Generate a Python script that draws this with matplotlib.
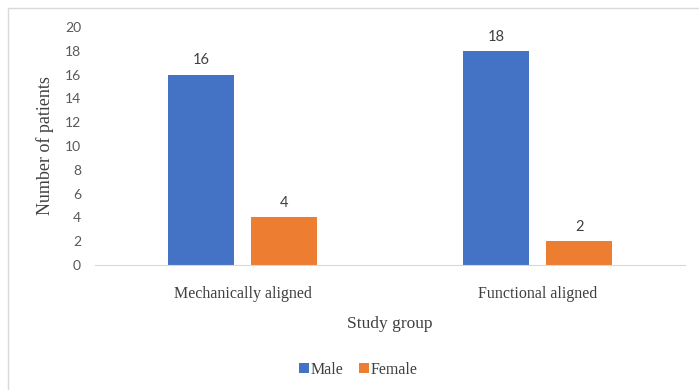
import matplotlib
matplotlib.use("Agg")
import matplotlib.pyplot as plt
import numpy as np
from matplotlib.patches import Rectangle

groups = ["Mechanically aligned", "Functional aligned"]
male = [16, 18]
female = [4, 2]
series_names = ["Male", "Female"]
colors = ["#4472C4", "#ED7D31"]
yticks = list(range(0, 21, 2))

W, H = 699, 390
fig = plt.figure(figsize=(W / 100, H / 100), dpi=100)
# light frame around the chart area
fig.patches.append(Rectangle((8 / W, -0.01), 1.0, 1 - 8 / H + 0.01,
                             transform=fig.transFigure, fill=False,
                             edgecolor="#D9D9D9", linewidth=1.0))

ax = fig.add_axes([95 / W, 1 - 265 / H, (685 - 95) / W, (265 - 27) / H])

x = np.arange(len(groups))
bw = 0.223
off = 0.141
b1 = ax.bar(x - off, male, bw, color=colors[0], label=series_names[0])
b2 = ax.bar(x + off, female, bw, color=colors[1], label=series_names[1])

for bars in (b1, b2):
    for r in bars:
        ax.text(r.get_x() + r.get_width() / 2, r.get_height() + 0.6,
                f"{int(r.get_height())}", ha="center", va="bottom",
                fontsize=10.5, color="#404040", family="Lato")

ax.set_xlim(-0.5, 1.5)
ax.set_ylim(0, 20)
ax.set_yticks(yticks)
ax.set_yticklabels([str(t) for t in yticks], family="Lato", fontsize=10,
                   color="#595959")
ax.set_xticks(x)
ax.set_xticklabels(groups, family="Liberation Serif", fontsize=11.5,
                   color="#404040")
ax.tick_params(axis="both", length=0)
ax.tick_params(axis="y", pad=10)
ax.tick_params(axis="x", pad=15)
for s in ("top", "right", "left"):
    ax.spines[s].set_visible(False)
ax.spines["bottom"].set_color("#D9D9D9")

ax.set_ylabel("Number of patients", family="Liberation Serif", fontsize=13,
              color="#404040", labelpad=8)
ax.set_xlabel("Study group", family="Liberation Serif", fontsize=12.5,
              color="#404040", labelpad=10)

fig.legend(loc="center", bbox_to_anchor=(358 / W, 1 - 370 / H), ncol=2,
           frameon=False, handlelength=0.6, handleheight=0.6,
           handletextpad=0.1, columnspacing=1.0,
           prop={"family": "Liberation Serif", "size": 11.5},
           labelcolor="#404040")

fig.savefig("out.png", dpi=100)
